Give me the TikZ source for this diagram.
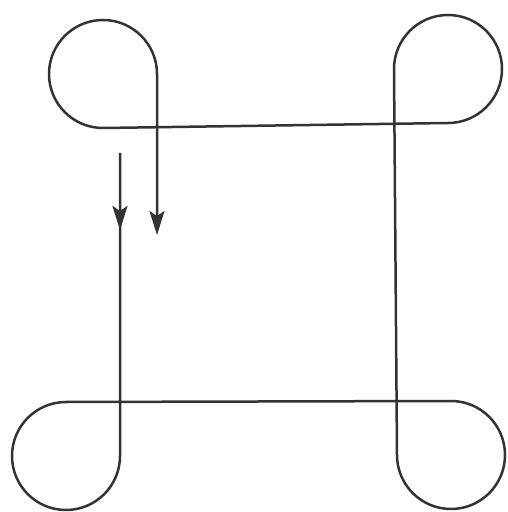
\documentclass[tikz,border=0pt]{standalone}
\usetikzlibrary{arrows.meta}
\begin{document}
\begin{tikzpicture}[
    x=1pt, y=1pt,
    curve/.style={line width=2.5pt, draw=black!80, line join=round},
    arrow/.style={curve, -{Stealth[length=24pt, width=15pt, inset=5pt]}}
]
\useasboundingbox (0,0) rectangle (507,512);

% Free ends of the path
\coordinate (start) at (120,359);
\coordinate (midtip) at (120,282);
\coordinate (endtip) at (157,277);

% Entry points of the four loops
\coordinate (blin) at (120,56);
\coordinate (brin) at (451,111);
\coordinate (trin) at (394,443);
\coordinate (tlin) at (103,384);

% Path round the four corner loops
\draw[arrow] (start) -- (blin) arc[start angle=0, end angle=-270, radius=54]
    -- (brin) arc[start angle=90, end angle=-180, radius=54]
    -- (trin) arc[start angle=180, end angle=-90, radius=54]
    -- (tlin) arc[start angle=-90, end angle=-360, radius=54]
    -- (endtip);

% Arrow head on the incoming line
\draw[arrow] (start) -- (midtip);
\end{tikzpicture}
\end{document}
